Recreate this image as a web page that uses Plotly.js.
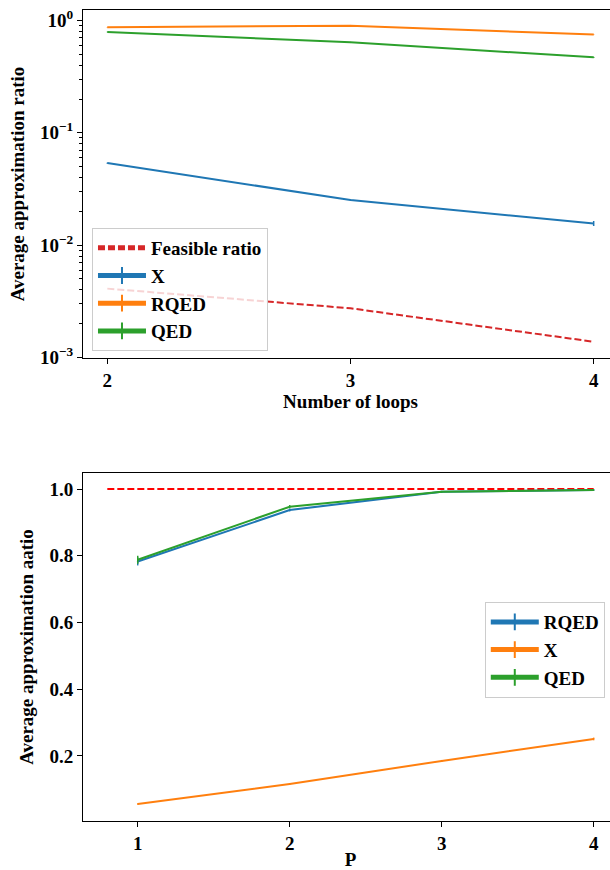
<!DOCTYPE html>
<html><head><meta charset="utf-8">
<script src="https://cdn.plot.ly/plotly-3.0.1.min.js"></script>
<style>html,body{margin:0;padding:0;overflow:hidden;background:#fff}#chart{width:640px;height:870px}</style>
</head><body><div id="chart"></div>
<script>
// ---- data ----
const loops = [2, 3, 4];
const feasibleRatio = [0.0041, 0.00274, 0.00138];
const xLoops = [0.0538, 0.0252, 0.0156];
const xLoopsErr = [0.0004, 0.0003, 0.0008];
const rqedLoops = [0.87, 0.90, 0.75];
const rqedLoopsErr = [0.004, 0.004, 0.004];
const qedLoops = [0.79, 0.64, 0.47];
const qedLoopsErr = [0.004, 0.004, 0.004];

const pValues = [1, 2, 3, 4];
const rqedP = [0.783, 0.937, 0.992, 0.997];
const rqedPErr = [0.012, 0.004, 0.002, 0.002];
const xP = [0.056, 0.116, 0.185, 0.251];
const xPErr = [0.002, 0.002, 0.003, 0.004];
const qedP = [0.788, 0.947, 0.992, 0.997];
const qedPErr = [0.012, 0.005, 0.002, 0.002];
const refP = [0.8, 4];
const refVal = [1, 1];

const logTickVals = [0.001, 0.01, 0.1, 1];
const logTickText = ['10<sup>−3</sup>', '10<sup>−2</sup>', '10<sup>−1</sup>', '10<sup>0</sup>'];
const linTickVals = [0.2, 0.4, 0.6, 0.8, 1.0];
const linTickText = ['0.2', '0.4', '0.6', '0.8', '1.0'];

// ---- styling ----
const C = {blue: '#1f77b4', orange: '#ff7f0e', green: '#2ca02c', red: '#d62728'};
const FAM = '"Liberation Serif", "Times New Roman", serif';
const FS = 19;
const minorLog = [];
[0.001, 0.01, 0.1].forEach(d => { for (let k = 2; k <= 9; k++) minorLog.push(d * k); });

function errTrace(x, y, err, color, name, xa, ya, lg) {
  return {
    x: x, y: y, name: name, type: 'scatter', mode: 'lines+markers',
    xaxis: xa, yaxis: ya, legend: lg,
    line: {color: color, width: 2},
    marker: {symbol: 'cross-thin-open', size: 0.1, color: color, line: {color: color, width: 2}},
    error_y: {type: 'data', array: err, visible: true, color: color, thickness: 1.5, width: 0}
  };
}

const traces = [
  {x: loops, y: feasibleRatio, name: 'Feasible ratio', type: 'scatter', mode: 'lines',
   xaxis: 'x', yaxis: 'y', legend: 'legend',
   line: {color: C.red, width: 2, dash: '7px,3px'}, legendrank: 1},
  Object.assign(errTrace(loops, xLoops, xLoopsErr, C.blue, 'X', 'x', 'y', 'legend'), {legendrank: 2}),
  Object.assign(errTrace(loops, rqedLoops, rqedLoopsErr, C.orange, 'RQED', 'x', 'y', 'legend'), {legendrank: 3}),
  Object.assign(errTrace(loops, qedLoops, qedLoopsErr, C.green, 'QED', 'x', 'y', 'legend'), {legendrank: 4}),

  {x: refP, y: refVal, name: 'ref', type: 'scatter', mode: 'lines', showlegend: false,
   xaxis: 'x2', yaxis: 'y2', line: {color: '#ff0000', width: 2, dash: '7px,3px'}},
  errTrace(pValues, rqedP, rqedPErr, C.blue, 'RQED', 'x2', 'y2', 'legend2'),
  errTrace(pValues, xP, xPErr, C.orange, 'X', 'x2', 'y2', 'legend2'),
  errTrace(pValues, qedP, qedPErr, C.green, 'QED', 'x2', 'y2', 'legend2')
];

const axisBase = {
  showline: true, mirror: true, linecolor: '#000', linewidth: 1,
  ticks: 'outside', ticklen: 5, tickwidth: 1, tickcolor: '#000',
  showgrid: false, zeroline: false, automargin: false,
  tickfont: {family: FAM, size: FS, color: '#000', weight: 'bold'}
};
const titleFont = {family: FAM, size: FS, color: '#000', weight: 'bold'};
const legendBase = {
  bgcolor: 'rgba(255,255,255,0.8)', bordercolor: '#cccccc', borderwidth: 1,
  font: {family: FAM, size: FS, color: '#000', weight: 'bold'},
  itemsizing: 'constant', itemwidth: 48, tracegroupgap: 0, xanchor: 'left', yanchor: 'top'
};

const layout = {
  width: 640, height: 870,
  margin: {l: 83, r: 22, t: 0, b: 0},
  paper_bgcolor: '#fff', plot_bgcolor: '#fff',
  showlegend: true,
  xaxis: Object.assign({}, axisBase, {
    anchor: 'y', domain: [0, 1], range: [1.9, 4.1], tickvals: loops,
    title: {text: 'Number of loops', font: titleFont, standoff: 3}
  }),
  yaxis: Object.assign({}, axisBase, {
    anchor: 'x', domain: [0.5885, 0.9885], type: 'log', range: [-3.005, 0.0935],
    tickvals: logTickVals, ticktext: logTickText,
    minor: {tickvals: minorLog, ticks: 'outside', ticklen: 3, tickwidth: 1, tickcolor: '#000', showgrid: false},
    title: {text: 'Average approximation ratio', font: titleFont, standoff: 10}
  }),
  xaxis2: Object.assign({}, axisBase, {
    anchor: 'y2', domain: [0, 1], range: [0.64, 4.16], tickvals: pValues,
    title: {text: 'P', font: titleFont, standoff: 6}
  }),
  yaxis2: Object.assign({}, axisBase, {
    anchor: 'x2', domain: [0.0563, 0.4563], range: [0.005, 1.048],
    tickvals: linTickVals, ticktext: linTickText,
    title: {text: 'Average approximation aatio', font: titleFont, standoff: 10}
  }),
  legend: Object.assign({}, legendBase, {x: 0.0168, y: 0.738}),
  legend2: Object.assign({}, legendBase, {x: 0.751, y: 0.308})
};

Plotly.newPlot('chart', traces, layout, {staticPlot: true, displayModeBar: false});
</script>
</body></html>
